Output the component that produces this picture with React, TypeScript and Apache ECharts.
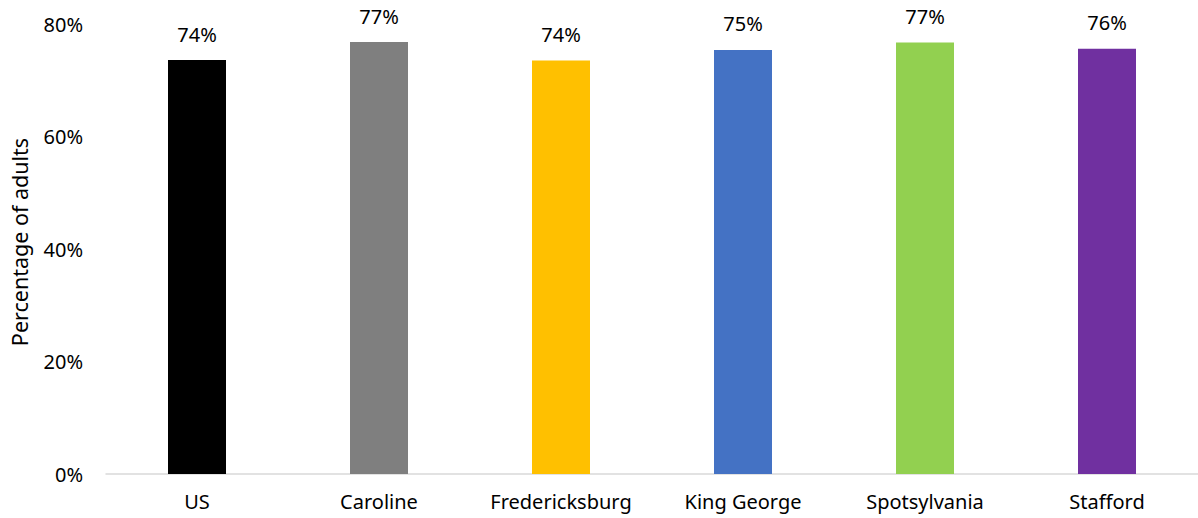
import React, { useEffect, useRef } from "react";
import * as echarts from "echarts";

const categories = ["US", "Caroline", "Fredericksburg", "King George", "Spotsylvania", "Stafford"];
const values = [73.6, 76.8, 73.5, 75.4, 76.7, 75.6];
const barColors = ["#000000", "#7f7f7f", "#ffc000", "#4472c4", "#92d050", "#7030a0"];
const yTicks = [0, 20, 40, 60, 80];

const FONT = "'Noto Sans', 'Open Sans', sans-serif";

export default function App() {
  const ref = useRef<HTMLDivElement>(null);

  useEffect(() => {
    document.body.style.margin = "0";
    if (!ref.current) return;
    const chart = echarts.init(ref.current, null, { renderer: "svg" });
    chart.setOption({
      animation: false,
      textStyle: { fontFamily: FONT },
      grid: {
        left: 106,
        right: 0,
        top: 24,
        bottom: 44,
        containLabel: false,
        outerBoundsMode: "none",
      },
      xAxis: {
        type: "category",
        data: categories,
        axisLine: { show: true, lineStyle: { color: "#d9d9d9", width: 1.5 } },
        axisTick: { show: false },
        axisLabel: { color: "#000", fontSize: 20, fontFamily: FONT, margin: 17, interval: 0 },
      },
      yAxis: {
        type: "value",
        min: yTicks[0],
        max: yTicks[yTicks.length - 1],
        interval: 20,
        name: "Percentage of adults",
        nameLocation: "middle",
        nameGap: 76,
        nameTextStyle: {
          color: "#000",
          fontSize: 21.5,
          fontFamily: FONT,
          padding: [0, 0, 0, 14],
        },
        axisLine: { show: false },
        axisTick: { show: false },
        splitLine: { show: false },
        axisLabel: {
          color: "#000",
          fontSize: 20,
          fontFamily: FONT,
          margin: 23,
          formatter: (v: number) => `${v}%`,
        },
      },
      series: [
        {
          type: "bar",
          barWidth: 58,
          data: values.map((v, i) => ({ value: v, itemStyle: { color: barColors[i] } })),
          label: {
            show: true,
            position: "top",
            distance: 16,
            color: "#000",
            fontSize: 20,
            fontFamily: FONT,
            formatter: (p: any) => `${Math.round(p.value)}%`,
          },
        },
      ],
    });
    return () => chart.dispose();
  }, []);

  return <div ref={ref} style={{ width: 1198, height: 518 }} />;
}
